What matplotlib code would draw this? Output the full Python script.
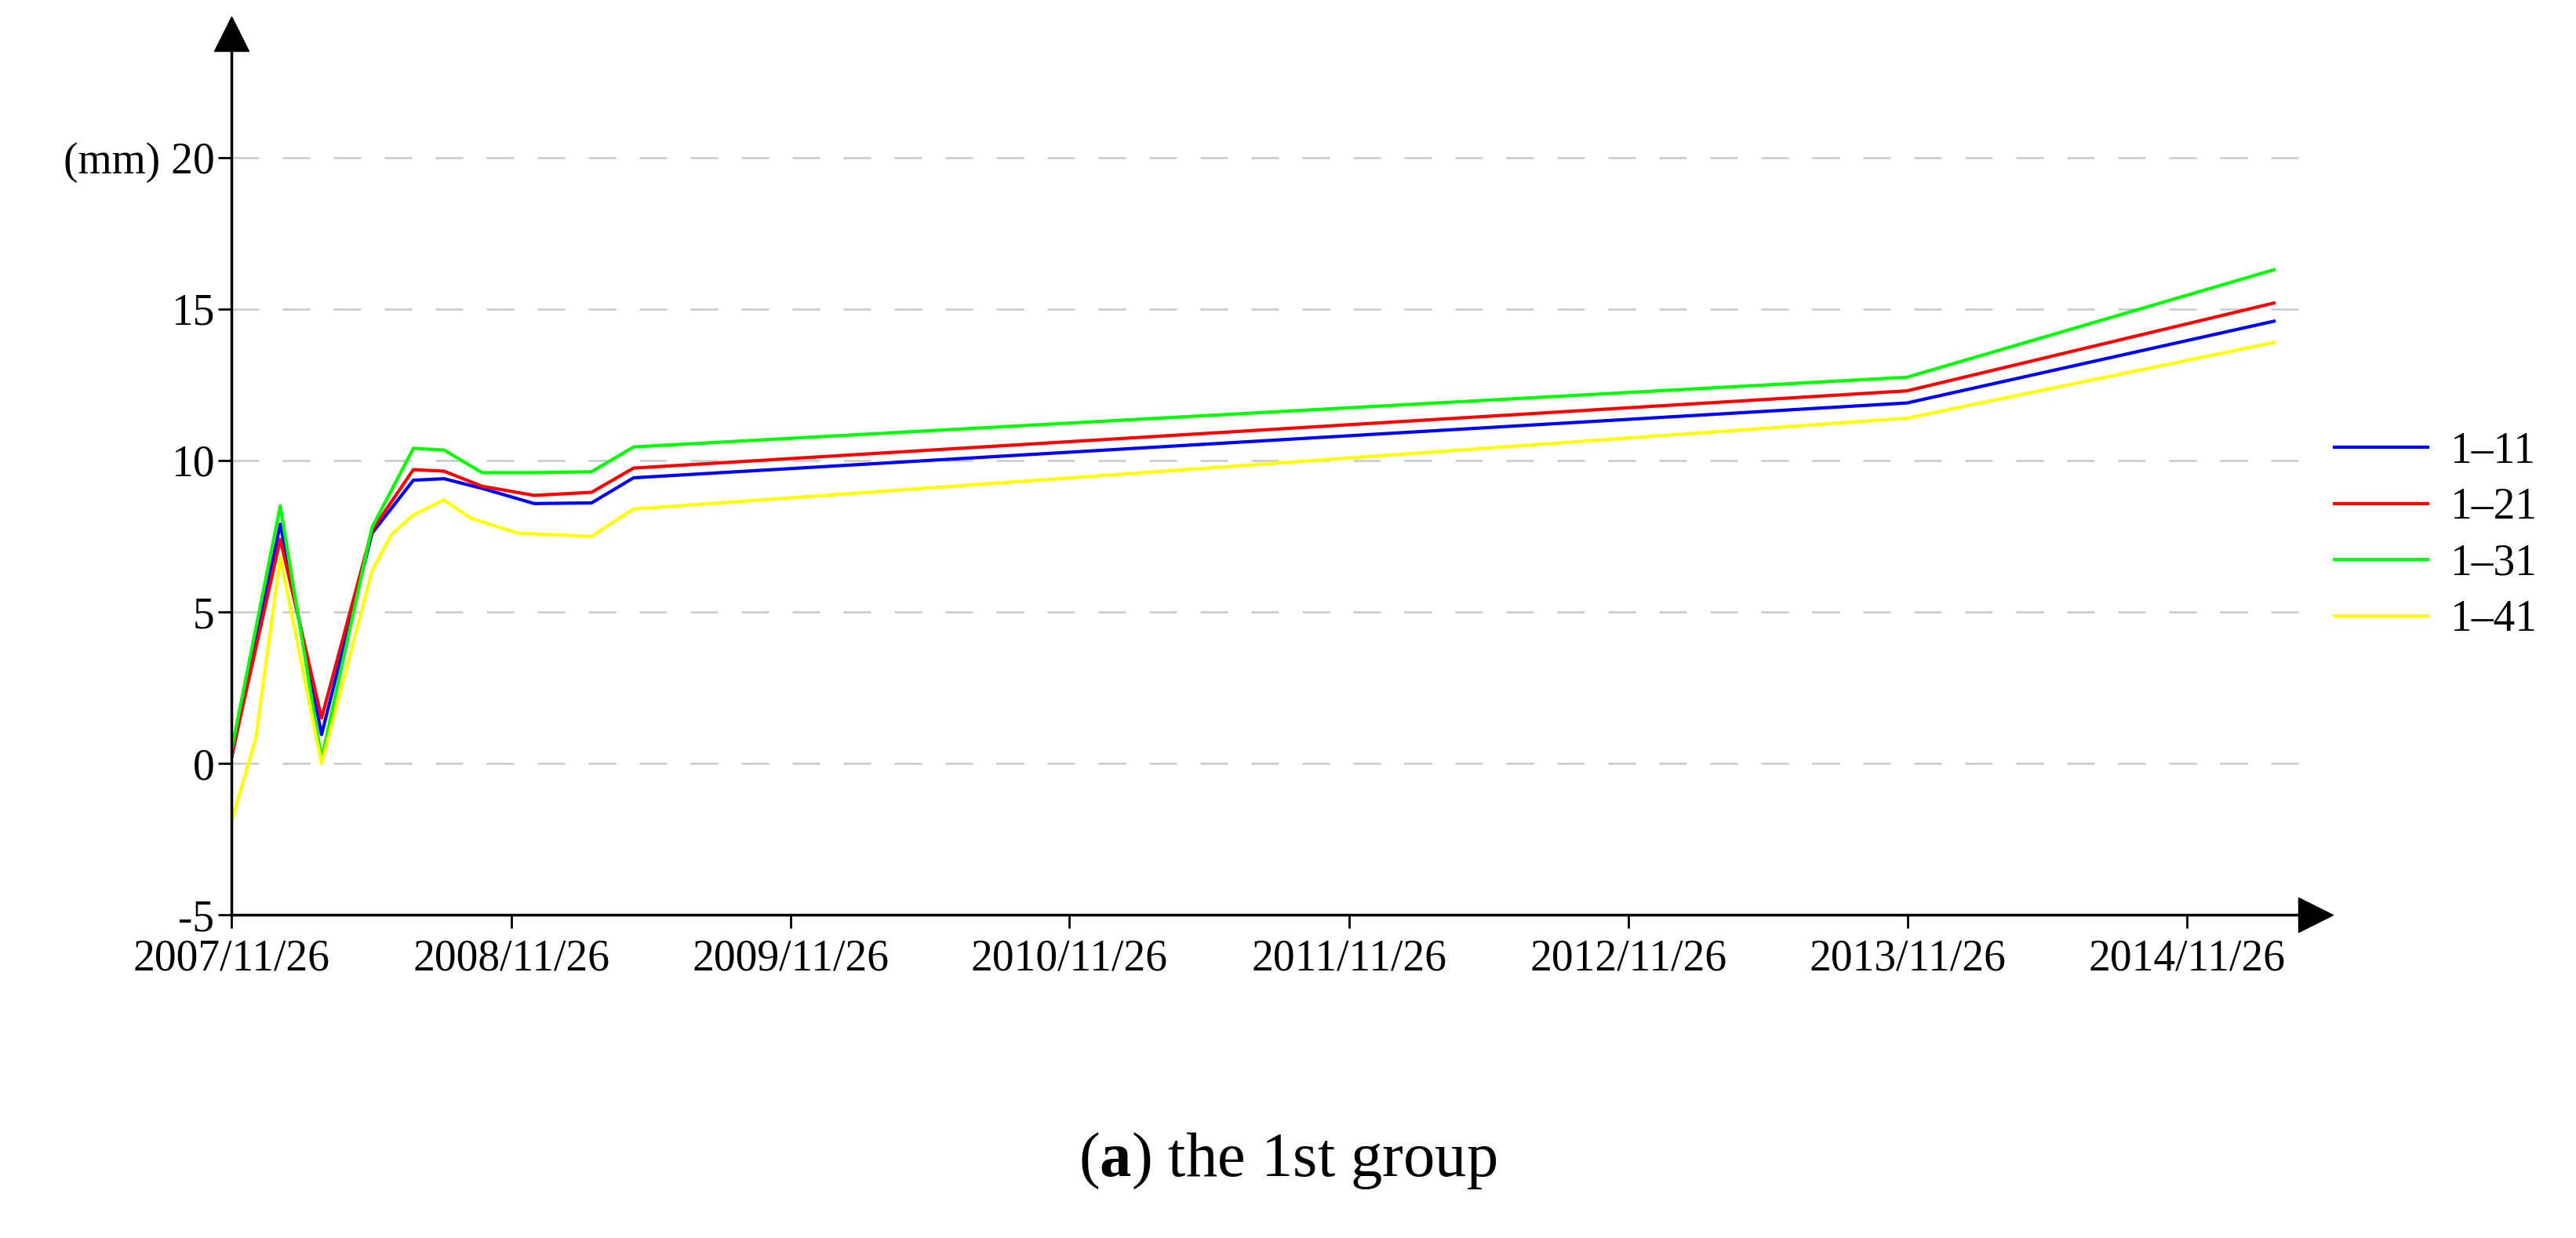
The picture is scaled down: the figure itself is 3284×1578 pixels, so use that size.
import matplotlib
matplotlib.use("Agg")
import matplotlib.pyplot as plt
import numpy as np

plt.rcParams['font.family'] = ['Liberation Serif', 'DejaVu Serif']
plt.rcParams['mathtext.fontset'] = 'custom'
plt.rcParams['mathtext.rm'] = 'Liberation Serif'
plt.rcParams['mathtext.bf'] = 'Liberation Serif:bold'

# days since 2007/11/26
days_main = [0, 64, 118, 184, 238, 278, 328, 396, 471, 526, 2191, 2671]
s11 = [0.15, 7.9, 0.95, 7.6, 9.35, 9.4, 9.08, 8.58, 8.6, 9.43, 11.9, 14.6]
s21 = [0.2, 7.4, 1.5, 7.7, 9.7, 9.65, 9.15, 8.85, 8.95, 9.75, 12.3, 15.2]
s31 = [0.4, 8.5, 0.15, 7.8, 10.4, 10.35, 9.6, 9.6, 9.63, 10.45, 12.75, 16.3]
days_41 = [0, 32, 64, 118, 184, 209, 238, 278, 313, 375, 471, 526, 2191, 2671]
s41 = [-1.95, 0.83, 6.8, 0.0, 6.35, 7.55, 8.2, 8.7, 8.1, 7.6, 7.5, 8.4, 11.4, 13.9]
year_ticks = [0, 366, 731, 1096, 1462, 1827, 2192, 2557]
year_labels = ["2007/11/26", "2008/11/26", "2009/11/26", "2010/11/26",
               "2011/11/26", "2012/11/26", "2013/11/26", "2014/11/26"]
y_ticks = [-5, 0, 5, 10, 15, 20]

fig = plt.figure(figsize=(32.84, 15.78), dpi=100)
ax = fig.add_axes([0.0898, 0.261, 0.809, 0.712])
lw = 3.0
ax.plot(days_main, s11, color='#0000ff', lw=lw, label='1–11')
ax.plot(days_main, s21, color='#ff0000', lw=lw, label='1–21')
ax.plot(days_main, s31, color='#00ff00', lw=lw, label='1–31')
ax.plot(days_41, s41, color='#ffff00', lw=lw, label='1–41')

ax.set_xlim(0, 2725)
ax.set_ylim(-5, 24.1)
for y in [0, 5, 10, 15, 20]:
    ax.axhline(y, color='#c8c8c8', lw=1.8, dashes=(14, 12), zorder=0)
ax.set_xticks(year_ticks)
ax.set_xticklabels(year_labels)
ax.set_yticks(y_ticks)
ax.set_yticklabels(['-5', '0', '5', '10', '15', '(mm) 20'])
ax.tick_params(labelsize=40, direction='out', length=12, width=2)
ax.tick_params(axis='x', pad=10)
for s in ['top', 'right']:
    ax.spines[s].set_visible(False)
for s in ['left', 'bottom']:
    ax.spines[s].set_linewidth(2.5)
ax.plot(1, 0, '>k', ms=32, transform=ax.transAxes, clip_on=False)
ax.plot(0, 1, '^k', ms=32, transform=ax.transAxes, clip_on=False)

ax.legend(loc='center left', bbox_to_anchor=(1.009, 0.43), frameon=False,
          fontsize=40, handlelength=2.15, handletextpad=0.5, labelspacing=0.35,
          borderpad=0, borderaxespad=0)
fig.text(0.5, 0.062, r'($\mathbf{a}$) the 1st group', ha='center', va='center', fontsize=58)
fig.savefig('out.png', dpi=100)
